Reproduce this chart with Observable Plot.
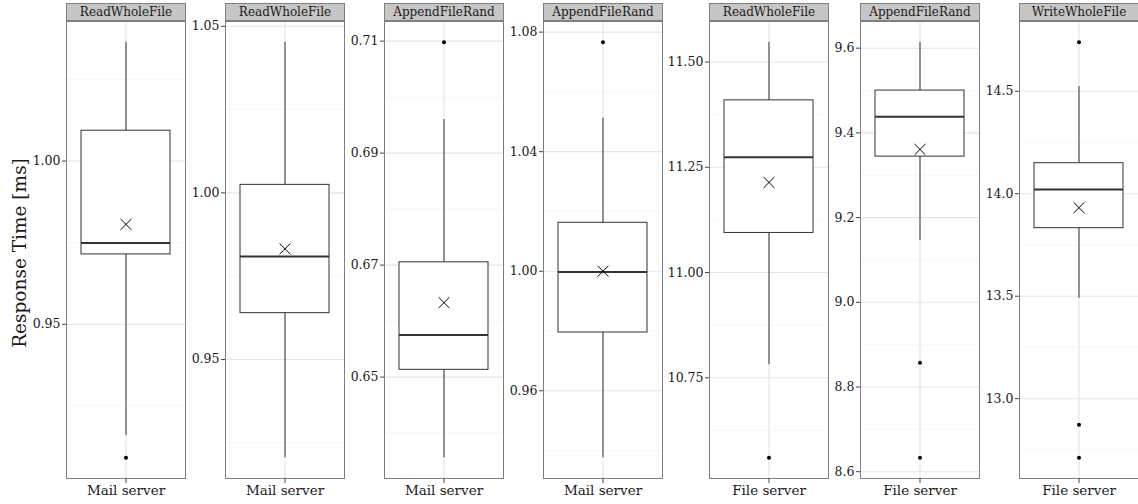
<!DOCTYPE html>
<html>
<head>
<meta charset="utf-8">
<script src="https://cdn.jsdelivr.net/npm/d3@7"></script>
<script src="https://cdn.jsdelivr.net/npm/@observablehq/plot@0.6"></script>
<style>
  body { margin: 0; background: #fff; }
  #chart { position: relative; width: 1138px; height: 504px; font-family: "DejaVu Serif", serif; overflow: hidden; }
  #chart svg { position: absolute; top: 0; }
  #chart svg text { font-family: "DejaVu Serif", serif !important; }
  .strip { position: absolute; top: 3px; height: 18px; box-sizing: border-box; background: #c6c6c6; border: 1px solid #7f7f7f; text-align: center; font-family: "DejaVu Serif", serif; font-size: 12px; line-height: 16px; color: #1a1a1a; white-space: nowrap; }
  .ytitle { position: absolute; left: 19px; top: 253px; transform: translate(-50%, -50%) rotate(-90deg); font-family: "DejaVu Serif", serif; font-size: 18.5px; color: #1a1a1a; white-space: nowrap; }
</style>
</head>
<body>
<div id="chart"><div class="ytitle">Response Time [ms]</div></div>
<script>
// ---- data ----
const operations = ["ReadWholeFile", "ReadWholeFile", "AppendFileRand", "AppendFileRand", "ReadWholeFile", "AppendFileRand", "WriteWholeFile"];
const servers = ["Mail server", "Mail server", "Mail server", "Mail server", "File server", "File server", "File server"];
const whiskerLow  = [0.9159, 0.9205, 0.6356, 0.9376, 10.781, 9.146, 13.490];
const q1          = [0.9714, 0.9639, 0.6513, 0.9795, 11.094, 9.344, 13.832];
const median      = [0.9749, 0.9809, 0.6575, 0.9997, 11.274, 9.438, 14.021];
const q3          = [1.0093, 1.0024, 0.6705, 1.0162, 11.409, 9.500, 14.149];
const whiskerHigh = [1.0364, 1.0452, 0.6960, 1.0512, 11.547, 9.614, 14.523];
const means       = [0.9806, 0.9832, 0.6633, 1.0000, 11.214, 9.361, 13.932];
const outliers    = [[0.9091], [], [0.7098], [1.0766], [10.560], [8.857, 8.633], [14.739, 12.873, 12.712]];
const majorTicks = [
  [0.95, 1.00],
  [0.95, 1.00, 1.05],
  [0.65, 0.67, 0.69, 0.71],
  [0.96, 1.00, 1.04, 1.08],
  [10.75, 11.00, 11.25, 11.50],
  [8.6, 8.8, 9.0, 9.2, 9.4, 9.6],
  [13.0, 13.5, 14.0, 14.5]
];
const minorTicks = [
  [0.925, 0.975, 1.025],
  [0.925, 0.975, 1.025],
  [0.64, 0.66, 0.68, 0.70],
  [0.94, 0.98, 1.02, 1.06],
  [10.625, 10.875, 11.125, 11.375],
  [8.7, 8.9, 9.1, 9.3, 9.5],
  [12.75, 13.25, 13.75, 14.25, 14.75]
];
const tickFormats = [".2f", ".2f", ".2f", ".2f", ".2f", ".1f", ".1f"];

// ---- layout ----
const panelLeft = [66, 225, 384, 543, 709, 860, 1019];
const panelWidth = 119;
const H = 504, mTop = 21, mBottom = 26;

const chart = document.getElementById("chart");

operations.forEach((op, i) => {
  const left = i === 0 ? 0 : panelLeft[i - 1] + panelWidth;
  const mLeft = panelLeft[i] - left;
  const width = mLeft + panelWidth + 1;
  const row = {server: servers[i], lo: whiskerLow[i], q1: q1[i], med: median[i], q3: q3[i], hi: whiskerHigh[i], mean: means[i]};
  const pts = outliers[i].map(v => ({server: servers[i], v}));
  const all = [whiskerLow[i], whiskerHigh[i], ...outliers[i]];
  const mn = d3.min(all), mx = d3.max(all), pad = (mx - mn) * 0.05;

  const svg = Plot.plot({
    width, height: H,
    marginLeft: mLeft, marginRight: 1, marginTop: mTop, marginBottom: mBottom,
    style: 'background: transparent; overflow: visible; font-family: "DejaVu Serif", serif; color: #1a1a1a;',
    x: {type: "band", domain: [servers[i]], paddingInner: 0, paddingOuter: 0.168, label: null},
    y: {domain: [mn - pad, mx + pad], label: null},
    marks: [
      Plot.gridY(minorTicks[i], {stroke: "#f3f3f3", strokeOpacity: 1, strokeWidth: 0.7}),
      Plot.gridY(majorTicks[i], {stroke: "#e4e4e4", strokeOpacity: 1, strokeWidth: 1.1}),
      Plot.ruleX([servers[i]], {stroke: "#e4e4e4", strokeWidth: 1.1}),
      Plot.ruleX([row], {x: "server", y1: "lo", y2: "hi", stroke: "#333", strokeWidth: 1}),
      Plot.barY([row], {x: "server", y1: "q1", y2: "q3", fill: "white", stroke: "#333", strokeWidth: 1, inset: 0}),
      Plot.tickY([row], {x: "server", y: "med", stroke: "#333", strokeWidth: 2}),
      Plot.dot(pts, {x: "server", y: "v", r: 2, fill: "black", stroke: null}),
      Plot.dot([row], {x: "server", y: "mean", symbol: "times", r: 5, stroke: "black", strokeWidth: 1}),
      Plot.frame({stroke: "#7f7f7f", strokeWidth: 1}),
      Plot.axisY(majorTicks[i], {tickFormat: d3.format(tickFormats[i]), tickSize: 4, tickPadding: 2, fontSize: 12.5, stroke: "#444", label: null}),
      Plot.axisX({tickSize: 5, tickPadding: 2, fontSize: 13.5, stroke: "#444", label: null})
    ]
  });
  svg.style.left = left + "px";
  chart.appendChild(svg);

  const strip = document.createElement("div");
  strip.className = "strip";
  strip.style.left = panelLeft[i] + "px";
  strip.style.width = (panelWidth + 1) + "px";
  strip.textContent = op;
  chart.appendChild(strip);
});
</script>
</body>
</html>
